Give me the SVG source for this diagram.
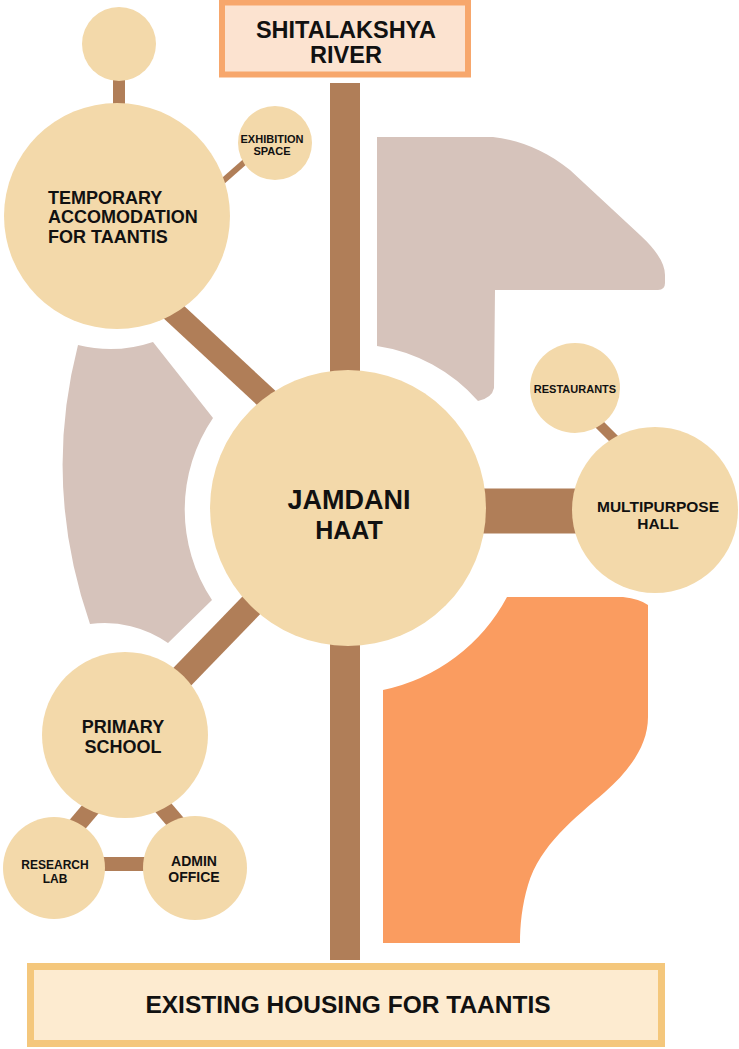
<svg xmlns="http://www.w3.org/2000/svg" width="739" height="1049" viewBox="0 0 739 1049">
<style>
.node{fill:#F3D9AA}
.bar{stroke:#B07E58;fill:none}
.t{font-family:"Liberation Sans",Arial,sans-serif;font-weight:bold;fill:#111;text-anchor:middle}
.grey{fill:#D6C3BB}
.orange{fill:#FA9C60}
</style>
<rect width="739" height="1049" fill="#FFFFFF"/>
<g id="zones">
<path class="grey" d="M377,137 L493,137 C520,140 545,150 570,170 L640,235 Q665,258 665,275 L665,283 Q665,290 658,290 L495,290 L494,388 Q492,398 478,401 A167,167 0 0 0 377,346 Z"/>
<path class="grey" d="M78,345 A133,133 0 0 0 153,342 L213,418 A163,163 0 0 0 212,600 L168,643 A110,110 0 0 0 90,624 Q42,485 78,345 Z"/>
<path class="orange" d="M507,597 L623,597 Q640,599 648,605 L648,717 C648,745 630,770 605,792 C575,818 540,845 528,885 C522,905 520,925 520,943 L383,943 L383,690 A183,183 0 0 0 507,597 Z"/>
</g>
<g id="connectors">
<line class="bar" x1="345" y1="83" x2="345" y2="960" stroke-width="30"/>
<line class="bar" x1="119" y1="70" x2="119" y2="110" stroke-width="12"/>
<line class="bar" x1="215" y1="188" x2="248" y2="159" stroke-width="6"/>
<line class="bar" x1="150" y1="290" x2="290" y2="420" stroke-width="23"/>
<line class="bar" x1="300" y1="555" x2="150" y2="710" stroke-width="25"/>
<line class="bar" x1="480" y1="511" x2="580" y2="511" stroke-width="45"/>
<line class="bar" x1="590" y1="415" x2="625" y2="450" stroke-width="10"/>
<line class="bar" x1="60" y1="845" x2="105" y2="792" stroke-width="18"/>
<line class="bar" x1="150" y1="792" x2="195" y2="845" stroke-width="18"/>
<line class="bar" x1="90" y1="864" x2="160" y2="864" stroke-width="14"/>
</g>
<g id="top-circle"><circle class="node" cx="119" cy="44" r="37"/></g>
<g id="accomodation">
<circle class="node" cx="117" cy="216" r="113"/>
<text class="t" x="48" y="204" font-size="18" style="text-anchor:start">TEMPORARY</text>
<text class="t" x="48" y="223" font-size="18" style="text-anchor:start">ACCOMODATION</text>
<text class="t" x="48" y="243" font-size="18" style="text-anchor:start">FOR TAANTIS</text>
</g>
<g id="exhibition">
<circle class="node" cx="275" cy="143" r="37"/>
<text class="t" x="272" y="143" font-size="11">EXHIBITION</text>
<text class="t" x="272" y="155" font-size="11">SPACE</text>
</g>
<g id="jamdani">
<circle class="node" cx="348" cy="508" r="138"/>
<text class="t" x="349" y="509" font-size="27">JAMDANI</text>
<text class="t" x="349" y="539" font-size="25">HAAT</text>
</g>
<g id="restaurants">
<circle class="node" cx="575" cy="388" r="45"/>
<text class="t" x="575" y="393" font-size="11">RESTAURANTS</text>
</g>
<g id="multipurpose">
<circle class="node" cx="655" cy="510" r="83"/>
<text class="t" x="658" y="512" font-size="15.5">MULTIPURPOSE</text>
<text class="t" x="658" y="529" font-size="15.5">HALL</text>
</g>
<g id="primary-school">
<circle class="node" cx="125" cy="735" r="83"/>
<text class="t" x="123" y="733" font-size="18">PRIMARY</text>
<text class="t" x="123" y="753" font-size="18">SCHOOL</text>
</g>
<g id="research-lab">
<circle class="node" cx="54" cy="868" r="51"/>
<text class="t" x="55" y="869" font-size="12">RESEARCH</text>
<text class="t" x="55" y="883" font-size="12">LAB</text>
</g>
<g id="admin-office">
<circle class="node" cx="195" cy="868" r="52"/>
<text class="t" x="194" y="866" font-size="14">ADMIN</text>
<text class="t" x="194" y="882" font-size="14">OFFICE</text>
</g>
<g id="river">
<rect x="222" y="2.5" width="246" height="72" fill="#FCE3D0" stroke="#F7A76C" stroke-width="6"/>
<text class="t" x="346" y="38" font-size="23.5">SHITALAKSHYA</text>
<text class="t" x="346" y="63" font-size="23.5">RIVER</text>
</g>
<g id="housing">
<rect x="30.5" y="966.5" width="631" height="77" fill="#FDEBD0" stroke="#F4C77C" stroke-width="7"/>
<text class="t" x="348" y="1013" font-size="24.5">EXISTING HOUSING FOR TAANTIS</text>
</g>
</svg>
